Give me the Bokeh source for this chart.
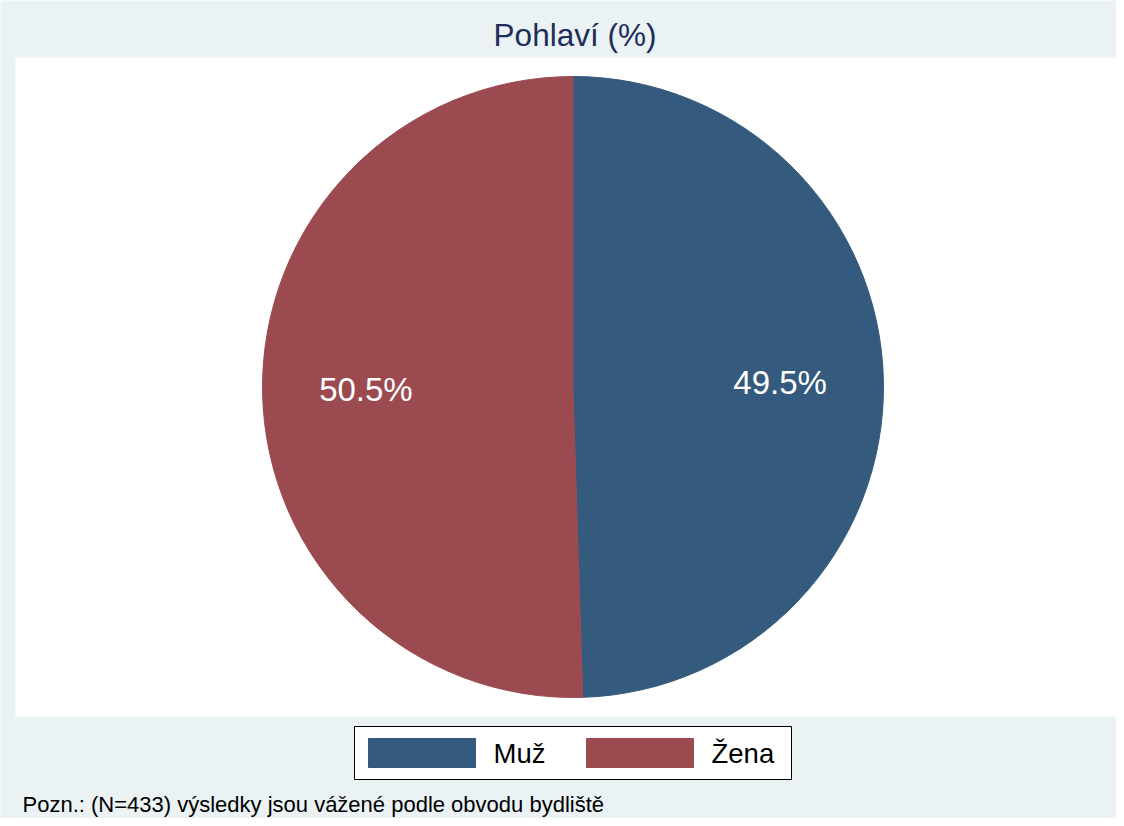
import math
from bokeh.plotting import figure
from bokeh.models import Range1d
from bokeh.core.properties import value
from bokeh.embed import file_html
from bokeh.resources import INLINE

# ---- data ----
categories = ["Muž", "Žena"]
shares = [49.5, 50.5]
labels = ["49.5%", "50.5%"]
colors = ["#345A7D", "#9B4A50"]
title_text = "Pohlaví (%)"
note_text = "Pozn.: (N=433) výsledky jsou vážené podle obvodu bydliště"

W, H = 1116, 818
FONT = value("Liberation Sans")


def Y(iy):
    return H - iy


p = figure(width=W, height=H, output_backend="svg", toolbar_location=None,
           x_range=Range1d(0, W), y_range=Range1d(0, H),
           min_border=0)
p.axis.visible = False
p.grid.visible = False
p.outline_line_color = None
p.background_fill_color = "#EAF2F3"
p.border_fill_color = "#EAF2F3"

# plot region (white)
p.quad(left=15, right=W + 10, top=Y(57), bottom=Y(716),
       fill_color="white", line_color=None)

# pie
cx, cy, r = 572.5, Y(386.5), 310.5
total = sum(shares)
start = math.pi / 2
for cat, s, col, lab in zip(categories, shares, colors, labels):
    sweep = 2 * math.pi * s / total
    end = start
    beg = start - sweep  # clockwise from 12 o'clock
    p.wedge(x=cx, y=cy, radius=r, start_angle=beg, end_angle=end,
            fill_color=col, line_color=col, line_width=1)
    mid = (beg + end) / 2
    lr = 0.667 * r
    p.text(x=cx + lr * math.cos(mid), y=cy + lr * math.sin(mid) + 1, text=[lab],
           text_color="white", text_font=FONT, text_font_size="33px",
           text_align="center", text_baseline="middle")
    start = beg

# title
p.text(x=574.5, y=Y(34), text=[title_text], text_color="#1E2D5A",
       text_font=FONT, text_font_size="31.5px", text_align="center",
       text_baseline="middle")

# legend
p.quad(left=354, right=791, top=Y(726), bottom=Y(779),
       fill_color="white", line_color="black", line_width=1)
sw_left = [368, 586]
tx_left = [493, 711]
for cat, col, sl, tl in zip(categories, colors, sw_left, tx_left):
    p.quad(left=sl, right=sl + 107, top=Y(738), bottom=Y(767),
           fill_color=col, line_color=col)
    p.text(x=tl, y=Y(753), text=[cat], text_color="black", text_font=FONT,
           text_font_size="27.5px", text_align="left", text_baseline="middle")

# note
p.text(x=22, y=Y(803.5), text=[note_text], text_color="black", text_font=FONT,
       text_font_size="22px", text_align="left", text_baseline="middle")

open("out.html", "w").write(file_html(p, INLINE))
